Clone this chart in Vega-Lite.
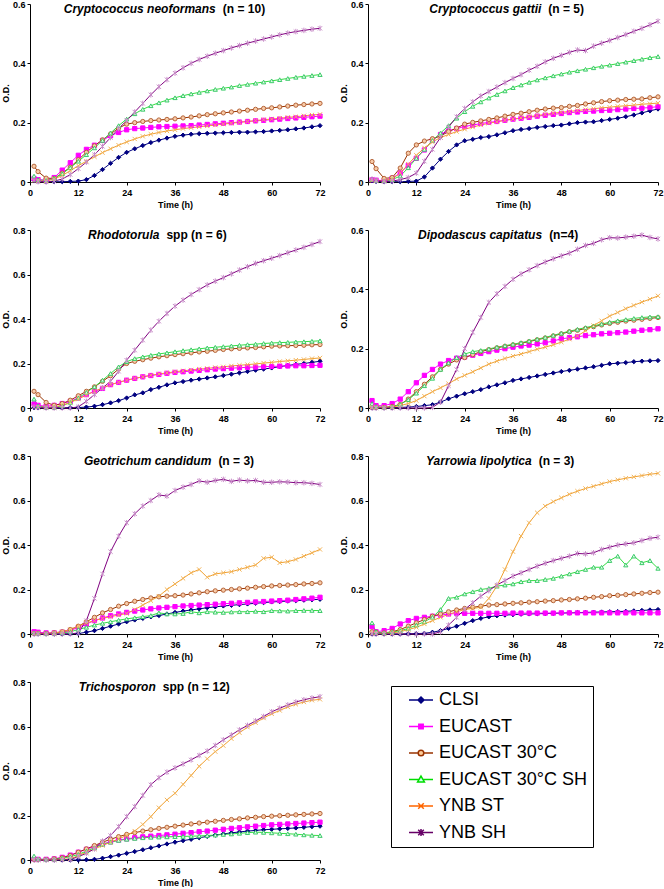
{
"$schema": "https://vega.github.io/schema/vega-lite/v6.json",
"padding": {"left": 1, "top": 0, "right": 0, "bottom": 0},
"background": "white",
"datasets": {
"names": [{"k":"a","s":"CLSI"},{"k":"b","s":"EUCAST"},{"k":"c","s":"EUCAST 30°C"},{"k":"d","s":"EUCAST 30°C SH"},{"k":"e","s":"YNB ST"},{"k":"f","s":"YNB SH"}],
"titles": [
{"p":1,"sp":"Cryptococcus neoformans","n":"(n = 10)"},
{"p":2,"sp":"Cryptococcus gattii","n":"(n = 5)"},
{"p":3,"sp":"Rhodotorula","n":"spp (n = 6)"},
{"p":4,"sp":"Dipodascus capitatus","n":"(n=4)"},
{"p":5,"sp":"Geotrichum candidum","n":"(n = 3)"},
{"p":6,"sp":"Yarrowia lipolytica","n":"(n = 3)"},
{"p":7,"sp":"Trichosporon","n":"spp (n = 12)"}
],
"od": [
{"p":1,"t":1,"a":0.006,"b":0.012,"c":0.053,"d":0.02,"e":0.005,"f":0.005},
{"p":1,"t":2,"a":0.003,"b":0.008,"c":0.035,"d":0.008,"e":0.004,"f":0.001},
{"p":1,"t":4,"a":0.002,"b":0.006,"c":0.013,"d":0.005,"e":0.003,"f":0},
{"p":1,"t":6,"a":0.001,"b":0.015,"c":0.012,"d":0.012,"e":0.01,"f":0.003},
{"p":1,"t":8,"a":0.001,"b":0.04,"c":0.03,"d":0.028,"e":0.022,"f":0.01},
{"p":1,"t":10,"a":0.002,"b":0.065,"c":0.05,"d":0.048,"e":0.038,"f":0.025},
{"p":1,"t":12,"a":0.003,"b":0.09,"c":0.075,"d":0.07,"e":0.055,"f":0.045},
{"p":1,"t":14,"a":0.008,"b":0.11,"c":0.1,"d":0.092,"e":0.07,"f":0.067},
{"p":1,"t":16,"a":0.022,"b":0.124,"c":0.122,"d":0.115,"e":0.085,"f":0.092},
{"p":1,"t":18,"a":0.042,"b":0.14,"c":0.142,"d":0.14,"e":0.099,"f":0.12},
{"p":1,"t":20,"a":0.063,"b":0.156,"c":0.162,"d":0.165,"e":0.112,"f":0.15},
{"p":1,"t":22,"a":0.083,"b":0.167,"c":0.182,"d":0.19,"e":0.124,"f":0.18},
{"p":1,"t":24,"a":0.1,"b":0.176,"c":0.195,"d":0.212,"e":0.135,"f":0.207},
{"p":1,"t":26,"a":0.112,"b":0.18,"c":0.2,"d":0.23,"e":0.145,"f":0.236},
{"p":1,"t":28,"a":0.123,"b":0.182,"c":0.204,"d":0.245,"e":0.154,"f":0.265},
{"p":1,"t":30,"a":0.133,"b":0.184,"c":0.207,"d":0.257,"e":0.161,"f":0.294},
{"p":1,"t":32,"a":0.141,"b":0.186,"c":0.209,"d":0.267,"e":0.167,"f":0.321},
{"p":1,"t":34,"a":0.148,"b":0.187,"c":0.211,"d":0.276,"e":0.172,"f":0.345},
{"p":1,"t":36,"a":0.154,"b":0.188,"c":0.213,"d":0.284,"e":0.176,"f":0.367},
{"p":1,"t":38,"a":0.158,"b":0.189,"c":0.216,"d":0.291,"e":0.18,"f":0.385},
{"p":1,"t":40,"a":0.161,"b":0.19,"c":0.219,"d":0.297,"e":0.183,"f":0.4},
{"p":1,"t":42,"a":0.163,"b":0.192,"c":0.223,"d":0.302,"e":0.186,"f":0.413},
{"p":1,"t":44,"a":0.164,"b":0.194,"c":0.227,"d":0.307,"e":0.189,"f":0.424},
{"p":1,"t":46,"a":0.165,"b":0.196,"c":0.23,"d":0.312,"e":0.192,"f":0.434},
{"p":1,"t":48,"a":0.166,"b":0.198,"c":0.233,"d":0.316,"e":0.195,"f":0.443},
{"p":1,"t":50,"a":0.167,"b":0.2,"c":0.236,"d":0.32,"e":0.198,"f":0.452},
{"p":1,"t":52,"a":0.168,"b":0.202,"c":0.239,"d":0.325,"e":0.201,"f":0.46},
{"p":1,"t":54,"a":0.168,"b":0.204,"c":0.242,"d":0.329,"e":0.204,"f":0.468},
{"p":1,"t":56,"a":0.169,"b":0.206,"c":0.245,"d":0.333,"e":0.207,"f":0.475},
{"p":1,"t":58,"a":0.17,"b":0.208,"c":0.248,"d":0.337,"e":0.21,"f":0.482},
{"p":1,"t":60,"a":0.172,"b":0.21,"c":0.25,"d":0.341,"e":0.212,"f":0.489},
{"p":1,"t":62,"a":0.174,"b":0.212,"c":0.253,"d":0.345,"e":0.215,"f":0.496},
{"p":1,"t":64,"a":0.176,"b":0.214,"c":0.256,"d":0.349,"e":0.218,"f":0.502},
{"p":1,"t":66,"a":0.179,"b":0.216,"c":0.259,"d":0.353,"e":0.22,"f":0.507},
{"p":1,"t":68,"a":0.182,"b":0.218,"c":0.261,"d":0.356,"e":0.223,"f":0.511},
{"p":1,"t":70,"a":0.186,"b":0.22,"c":0.263,"d":0.359,"e":0.226,"f":0.515},
{"p":1,"t":72,"a":0.19,"b":0.222,"c":0.265,"d":0.362,"e":0.228,"f":0.518},
{"p":2,"t":1,"a":0.004,"b":0.008,"c":0.069,"d":0.008,"e":0.005,"f":0.01},
{"p":2,"t":2,"a":0.002,"b":0.006,"c":0.045,"d":0.005,"e":0.005,"f":0.005},
{"p":2,"t":4,"a":0.001,"b":0.005,"c":0.012,"d":0.004,"e":0.005,"f":0.002},
{"p":2,"t":6,"a":0.001,"b":0.013,"c":0.015,"d":0.008,"e":0.01,"f":0.003},
{"p":2,"t":8,"a":0.001,"b":0.03,"c":0.047,"d":0.02,"e":0.03,"f":0.008},
{"p":2,"t":10,"a":0.002,"b":0.056,"c":0.097,"d":0.048,"e":0.06,"f":0.015},
{"p":2,"t":12,"a":0.003,"b":0.08,"c":0.125,"d":0.08,"e":0.09,"f":0.03},
{"p":2,"t":14,"a":0.017,"b":0.108,"c":0.138,"d":0.11,"e":0.115,"f":0.07},
{"p":2,"t":16,"a":0.047,"b":0.14,"c":0.146,"d":0.14,"e":0.135,"f":0.11},
{"p":2,"t":18,"a":0.077,"b":0.16,"c":0.155,"d":0.165,"e":0.15,"f":0.15},
{"p":2,"t":20,"a":0.103,"b":0.172,"c":0.17,"d":0.19,"e":0.16,"f":0.185},
{"p":2,"t":22,"a":0.125,"b":0.18,"c":0.182,"d":0.215,"e":0.17,"f":0.22},
{"p":2,"t":24,"a":0.139,"b":0.187,"c":0.195,"d":0.237,"e":0.178,"f":0.248},
{"p":2,"t":26,"a":0.144,"b":0.192,"c":0.201,"d":0.255,"e":0.185,"f":0.27},
{"p":2,"t":28,"a":0.15,"b":0.197,"c":0.206,"d":0.27,"e":0.192,"f":0.29},
{"p":2,"t":30,"a":0.153,"b":0.201,"c":0.211,"d":0.283,"e":0.198,"f":0.305},
{"p":2,"t":32,"a":0.159,"b":0.204,"c":0.216,"d":0.295,"e":0.203,"f":0.32},
{"p":2,"t":34,"a":0.166,"b":0.208,"c":0.222,"d":0.307,"e":0.208,"f":0.335},
{"p":2,"t":36,"a":0.173,"b":0.212,"c":0.228,"d":0.318,"e":0.212,"f":0.349},
{"p":2,"t":38,"a":0.177,"b":0.215,"c":0.232,"d":0.327,"e":0.216,"f":0.362},
{"p":2,"t":40,"a":0.18,"b":0.218,"c":0.237,"d":0.336,"e":0.22,"f":0.377},
{"p":2,"t":42,"a":0.184,"b":0.222,"c":0.242,"d":0.344,"e":0.224,"f":0.39},
{"p":2,"t":44,"a":0.187,"b":0.225,"c":0.246,"d":0.351,"e":0.228,"f":0.405},
{"p":2,"t":46,"a":0.19,"b":0.228,"c":0.249,"d":0.358,"e":0.232,"f":0.417},
{"p":2,"t":48,"a":0.192,"b":0.231,"c":0.251,"d":0.364,"e":0.235,"f":0.427},
{"p":2,"t":50,"a":0.196,"b":0.234,"c":0.255,"d":0.37,"e":0.238,"f":0.437},
{"p":2,"t":52,"a":0.2,"b":0.236,"c":0.258,"d":0.375,"e":0.241,"f":0.445},
{"p":2,"t":54,"a":0.202,"b":0.238,"c":0.263,"d":0.38,"e":0.244,"f":0.443},
{"p":2,"t":56,"a":0.203,"b":0.239,"c":0.267,"d":0.385,"e":0.247,"f":0.458},
{"p":2,"t":58,"a":0.207,"b":0.241,"c":0.271,"d":0.39,"e":0.25,"f":0.468},
{"p":2,"t":60,"a":0.211,"b":0.242,"c":0.274,"d":0.394,"e":0.252,"f":0.477},
{"p":2,"t":62,"a":0.215,"b":0.244,"c":0.276,"d":0.399,"e":0.255,"f":0.487},
{"p":2,"t":64,"a":0.22,"b":0.246,"c":0.278,"d":0.404,"e":0.257,"f":0.497},
{"p":2,"t":66,"a":0.226,"b":0.248,"c":0.279,"d":0.409,"e":0.259,"f":0.508},
{"p":2,"t":68,"a":0.233,"b":0.249,"c":0.28,"d":0.414,"e":0.262,"f":0.518},
{"p":2,"t":70,"a":0.24,"b":0.251,"c":0.284,"d":0.419,"e":0.264,"f":0.53},
{"p":2,"t":72,"a":0.246,"b":0.254,"c":0.287,"d":0.423,"e":0.266,"f":0.542},
{"p":3,"t":1,"a":0.001,"b":0.018,"c":0.075,"d":0.04,"e":0.005,"f":0.005},
{"p":3,"t":2,"a":0.001,"b":0.012,"c":0.06,"d":0.01,"e":0.004,"f":0.002},
{"p":3,"t":4,"a":0.001,"b":0.008,"c":0.025,"d":0.003,"e":0.003,"f":0},
{"p":3,"t":6,"a":0.001,"b":0.012,"c":0.012,"d":0.003,"e":0.005,"f":0},
{"p":3,"t":8,"a":0.001,"b":0.02,"c":0.02,"d":0.01,"e":0.012,"f":0},
{"p":3,"t":10,"a":0.002,"b":0.03,"c":0.035,"d":0.025,"e":0.025,"f":0},
{"p":3,"t":12,"a":0.002,"b":0.045,"c":0.055,"d":0.045,"e":0.04,"f":0.005},
{"p":3,"t":14,"a":0.004,"b":0.06,"c":0.075,"d":0.07,"e":0.058,"f":0.03},
{"p":3,"t":16,"a":0.008,"b":0.075,"c":0.095,"d":0.095,"e":0.075,"f":0.06},
{"p":3,"t":18,"a":0.015,"b":0.088,"c":0.12,"d":0.125,"e":0.09,"f":0.09},
{"p":3,"t":20,"a":0.023,"b":0.105,"c":0.145,"d":0.155,"e":0.105,"f":0.12},
{"p":3,"t":22,"a":0.033,"b":0.115,"c":0.175,"d":0.185,"e":0.115,"f":0.165},
{"p":3,"t":24,"a":0.045,"b":0.125,"c":0.2,"d":0.208,"e":0.125,"f":0.215},
{"p":3,"t":26,"a":0.059,"b":0.133,"c":0.21,"d":0.222,"e":0.133,"f":0.26},
{"p":3,"t":28,"a":0.068,"b":0.14,"c":0.217,"d":0.23,"e":0.14,"f":0.305},
{"p":3,"t":30,"a":0.083,"b":0.146,"c":0.224,"d":0.237,"e":0.147,"f":0.35},
{"p":3,"t":32,"a":0.093,"b":0.151,"c":0.23,"d":0.243,"e":0.153,"f":0.39},
{"p":3,"t":34,"a":0.104,"b":0.156,"c":0.235,"d":0.248,"e":0.158,"f":0.425},
{"p":3,"t":36,"a":0.113,"b":0.16,"c":0.24,"d":0.253,"e":0.163,"f":0.458},
{"p":3,"t":38,"a":0.119,"b":0.163,"c":0.244,"d":0.258,"e":0.167,"f":0.485},
{"p":3,"t":40,"a":0.125,"b":0.166,"c":0.248,"d":0.262,"e":0.171,"f":0.51},
{"p":3,"t":42,"a":0.13,"b":0.169,"c":0.252,"d":0.266,"e":0.175,"f":0.532},
{"p":3,"t":44,"a":0.135,"b":0.172,"c":0.255,"d":0.27,"e":0.178,"f":0.553},
{"p":3,"t":46,"a":0.14,"b":0.175,"c":0.259,"d":0.273,"e":0.182,"f":0.57},
{"p":3,"t":48,"a":0.146,"b":0.177,"c":0.263,"d":0.276,"e":0.185,"f":0.586},
{"p":3,"t":50,"a":0.152,"b":0.179,"c":0.266,"d":0.279,"e":0.189,"f":0.603},
{"p":3,"t":52,"a":0.158,"b":0.181,"c":0.268,"d":0.282,"e":0.192,"f":0.62},
{"p":3,"t":54,"a":0.164,"b":0.183,"c":0.27,"d":0.285,"e":0.195,"f":0.635},
{"p":3,"t":56,"a":0.17,"b":0.184,"c":0.272,"d":0.287,"e":0.198,"f":0.65},
{"p":3,"t":58,"a":0.175,"b":0.186,"c":0.275,"d":0.29,"e":0.202,"f":0.662},
{"p":3,"t":60,"a":0.18,"b":0.187,"c":0.278,"d":0.292,"e":0.205,"f":0.673},
{"p":3,"t":62,"a":0.186,"b":0.188,"c":0.279,"d":0.294,"e":0.209,"f":0.685},
{"p":3,"t":64,"a":0.191,"b":0.189,"c":0.28,"d":0.295,"e":0.212,"f":0.698},
{"p":3,"t":66,"a":0.196,"b":0.19,"c":0.281,"d":0.297,"e":0.215,"f":0.71},
{"p":3,"t":68,"a":0.2,"b":0.19,"c":0.282,"d":0.298,"e":0.218,"f":0.722},
{"p":3,"t":70,"a":0.205,"b":0.191,"c":0.284,"d":0.3,"e":0.222,"f":0.735},
{"p":3,"t":72,"a":0.21,"b":0.192,"c":0.285,"d":0.302,"e":0.225,"f":0.748},
{"p":4,"t":1,"a":0,"b":0.025,"c":0.003,"d":0.015,"e":0.003,"f":0},
{"p":4,"t":2,"a":0,"b":0.008,"c":0.002,"d":0.005,"e":0.002,"f":0},
{"p":4,"t":4,"a":0,"b":0.008,"c":0.002,"d":0.002,"e":0.002,"f":0},
{"p":4,"t":6,"a":0.001,"b":0.015,"c":0.005,"d":0.004,"e":0.003,"f":0},
{"p":4,"t":8,"a":0.002,"b":0.03,"c":0.012,"d":0.012,"e":0.008,"f":0},
{"p":4,"t":10,"a":0.003,"b":0.055,"c":0.03,"d":0.028,"e":0.015,"f":0},
{"p":4,"t":12,"a":0.005,"b":0.085,"c":0.055,"d":0.05,"e":0.025,"f":0},
{"p":4,"t":14,"a":0.008,"b":0.11,"c":0.08,"d":0.075,"e":0.04,"f":0},
{"p":4,"t":16,"a":0.011,"b":0.13,"c":0.105,"d":0.1,"e":0.055,"f":0.002},
{"p":4,"t":18,"a":0.02,"b":0.148,"c":0.13,"d":0.13,"e":0.068,"f":0.02},
{"p":4,"t":20,"a":0.031,"b":0.16,"c":0.148,"d":0.152,"e":0.082,"f":0.075},
{"p":4,"t":22,"a":0.04,"b":0.168,"c":0.162,"d":0.17,"e":0.098,"f":0.13},
{"p":4,"t":24,"a":0.048,"b":0.172,"c":0.17,"d":0.182,"e":0.11,"f":0.2},
{"p":4,"t":26,"a":0.055,"b":0.178,"c":0.18,"d":0.19,"e":0.122,"f":0.255},
{"p":4,"t":28,"a":0.062,"b":0.184,"c":0.19,"d":0.194,"e":0.135,"f":0.305},
{"p":4,"t":30,"a":0.071,"b":0.19,"c":0.197,"d":0.199,"e":0.148,"f":0.356},
{"p":4,"t":32,"a":0.078,"b":0.195,"c":0.203,"d":0.205,"e":0.158,"f":0.385},
{"p":4,"t":34,"a":0.085,"b":0.2,"c":0.208,"d":0.21,"e":0.167,"f":0.41},
{"p":4,"t":36,"a":0.093,"b":0.205,"c":0.213,"d":0.215,"e":0.175,"f":0.434},
{"p":4,"t":38,"a":0.098,"b":0.209,"c":0.218,"d":0.22,"e":0.182,"f":0.452},
{"p":4,"t":40,"a":0.103,"b":0.212,"c":0.224,"d":0.226,"e":0.19,"f":0.466},
{"p":4,"t":42,"a":0.108,"b":0.216,"c":0.23,"d":0.232,"e":0.198,"f":0.48},
{"p":4,"t":44,"a":0.113,"b":0.22,"c":0.236,"d":0.238,"e":0.205,"f":0.492},
{"p":4,"t":46,"a":0.118,"b":0.226,"c":0.243,"d":0.245,"e":0.213,"f":0.503},
{"p":4,"t":48,"a":0.123,"b":0.233,"c":0.25,"d":0.252,"e":0.222,"f":0.513},
{"p":4,"t":50,"a":0.127,"b":0.237,"c":0.257,"d":0.259,"e":0.232,"f":0.522},
{"p":4,"t":52,"a":0.131,"b":0.24,"c":0.262,"d":0.265,"e":0.243,"f":0.535},
{"p":4,"t":54,"a":0.135,"b":0.244,"c":0.268,"d":0.271,"e":0.26,"f":0.548},
{"p":4,"t":56,"a":0.139,"b":0.247,"c":0.274,"d":0.277,"e":0.278,"f":0.555},
{"p":4,"t":58,"a":0.144,"b":0.25,"c":0.28,"d":0.283,"e":0.294,"f":0.567},
{"p":4,"t":60,"a":0.149,"b":0.252,"c":0.285,"d":0.289,"e":0.31,"f":0.574},
{"p":4,"t":62,"a":0.151,"b":0.254,"c":0.289,"d":0.294,"e":0.322,"f":0.573},
{"p":4,"t":64,"a":0.153,"b":0.256,"c":0.293,"d":0.298,"e":0.335,"f":0.576},
{"p":4,"t":66,"a":0.156,"b":0.259,"c":0.296,"d":0.302,"e":0.346,"f":0.579},
{"p":4,"t":68,"a":0.158,"b":0.262,"c":0.299,"d":0.305,"e":0.357,"f":0.583},
{"p":4,"t":70,"a":0.159,"b":0.264,"c":0.302,"d":0.307,"e":0.367,"f":0.575},
{"p":4,"t":72,"a":0.16,"b":0.267,"c":0.305,"d":0.308,"e":0.378,"f":0.57},
{"p":5,"t":1,"a":0,"b":0.01,"c":0.003,"d":0.005,"e":0.003,"f":0},
{"p":5,"t":2,"a":0,"b":0.008,"c":0.003,"d":0.003,"e":0.003,"f":0},
{"p":5,"t":4,"a":0,"b":0.005,"c":0.002,"d":0.002,"e":0.002,"f":0},
{"p":5,"t":6,"a":0,"b":0.005,"c":0.005,"d":0.003,"e":0.005,"f":0},
{"p":5,"t":8,"a":0,"b":0.008,"c":0.01,"d":0.005,"e":0.01,"f":0},
{"p":5,"t":10,"a":0.001,"b":0.015,"c":0.02,"d":0.01,"e":0.02,"f":0},
{"p":5,"t":12,"a":0.002,"b":0.03,"c":0.035,"d":0.02,"e":0.035,"f":0.005},
{"p":5,"t":14,"a":0.008,"b":0.045,"c":0.055,"d":0.03,"e":0.05,"f":0.06},
{"p":5,"t":16,"a":0.015,"b":0.06,"c":0.075,"d":0.04,"e":0.06,"f":0.16},
{"p":5,"t":18,"a":0.025,"b":0.072,"c":0.095,"d":0.048,"e":0.07,"f":0.27},
{"p":5,"t":20,"a":0.035,"b":0.082,"c":0.11,"d":0.055,"e":0.078,"f":0.37},
{"p":5,"t":22,"a":0.045,"b":0.09,"c":0.125,"d":0.062,"e":0.085,"f":0.44},
{"p":5,"t":24,"a":0.055,"b":0.097,"c":0.137,"d":0.068,"e":0.092,"f":0.5},
{"p":5,"t":26,"a":0.063,"b":0.103,"c":0.147,"d":0.073,"e":0.11,"f":0.54},
{"p":5,"t":28,"a":0.07,"b":0.108,"c":0.155,"d":0.078,"e":0.13,"f":0.575},
{"p":5,"t":30,"a":0.077,"b":0.113,"c":0.162,"d":0.083,"e":0.15,"f":0.6},
{"p":5,"t":32,"a":0.083,"b":0.117,"c":0.167,"d":0.095,"e":0.17,"f":0.625},
{"p":5,"t":34,"a":0.09,"b":0.12,"c":0.17,"d":0.09,"e":0.2,"f":0.62},
{"p":5,"t":36,"a":0.097,"b":0.123,"c":0.172,"d":0.09,"e":0.225,"f":0.645},
{"p":5,"t":38,"a":0.103,"b":0.126,"c":0.175,"d":0.092,"e":0.25,"f":0.66},
{"p":5,"t":40,"a":0.108,"b":0.128,"c":0.18,"d":0.1,"e":0.275,"f":0.672},
{"p":5,"t":42,"a":0.113,"b":0.13,"c":0.185,"d":0.095,"e":0.29,"f":0.688},
{"p":5,"t":44,"a":0.118,"b":0.132,"c":0.19,"d":0.1,"e":0.255,"f":0.682},
{"p":5,"t":46,"a":0.122,"b":0.134,"c":0.194,"d":0.098,"e":0.27,"f":0.69},
{"p":5,"t":48,"a":0.126,"b":0.136,"c":0.197,"d":0.097,"e":0.275,"f":0.695},
{"p":5,"t":50,"a":0.129,"b":0.138,"c":0.2,"d":0.099,"e":0.28,"f":0.686},
{"p":5,"t":52,"a":0.132,"b":0.14,"c":0.203,"d":0.1,"e":0.29,"f":0.692},
{"p":5,"t":54,"a":0.135,"b":0.142,"c":0.206,"d":0.1,"e":0.3,"f":0.688},
{"p":5,"t":56,"a":0.138,"b":0.144,"c":0.21,"d":0.102,"e":0.31,"f":0.69},
{"p":5,"t":58,"a":0.141,"b":0.146,"c":0.213,"d":0.1,"e":0.34,"f":0.682},
{"p":5,"t":60,"a":0.144,"b":0.148,"c":0.216,"d":0.105,"e":0.345,"f":0.682},
{"p":5,"t":62,"a":0.146,"b":0.15,"c":0.218,"d":0.104,"e":0.32,"f":0.684},
{"p":5,"t":64,"a":0.148,"b":0.152,"c":0.22,"d":0.103,"e":0.325,"f":0.683},
{"p":5,"t":66,"a":0.15,"b":0.155,"c":0.222,"d":0.105,"e":0.335,"f":0.68},
{"p":5,"t":68,"a":0.152,"b":0.158,"c":0.225,"d":0.106,"e":0.35,"f":0.68},
{"p":5,"t":70,"a":0.154,"b":0.161,"c":0.227,"d":0.106,"e":0.365,"f":0.677},
{"p":5,"t":72,"a":0.156,"b":0.165,"c":0.23,"d":0.105,"e":0.38,"f":0.672},
{"p":6,"t":1,"a":0,"b":0.033,"c":0.01,"d":0.05,"e":0.003,"f":0},
{"p":6,"t":2,"a":0,"b":0.01,"c":0.008,"d":0.01,"e":0.003,"f":0},
{"p":6,"t":4,"a":0,"b":0.015,"c":0.005,"d":0.005,"e":0.002,"f":0},
{"p":6,"t":6,"a":0,"b":0.025,"c":0.01,"d":0.008,"e":0.005,"f":0},
{"p":6,"t":8,"a":0,"b":0.045,"c":0.02,"d":0.015,"e":0.01,"f":0},
{"p":6,"t":10,"a":0.001,"b":0.06,"c":0.035,"d":0.025,"e":0.02,"f":0},
{"p":6,"t":12,"a":0.002,"b":0.07,"c":0.05,"d":0.04,"e":0.03,"f":0},
{"p":6,"t":14,"a":0.003,"b":0.075,"c":0.065,"d":0.055,"e":0.045,"f":0},
{"p":6,"t":16,"a":0.008,"b":0.08,"c":0.08,"d":0.075,"e":0.06,"f":0},
{"p":6,"t":18,"a":0.015,"b":0.085,"c":0.09,"d":0.11,"e":0.075,"f":0.01},
{"p":6,"t":20,"a":0.025,"b":0.09,"c":0.1,"d":0.16,"e":0.088,"f":0.04},
{"p":6,"t":22,"a":0.035,"b":0.092,"c":0.108,"d":0.165,"e":0.1,"f":0.075},
{"p":6,"t":24,"a":0.048,"b":0.093,"c":0.115,"d":0.18,"e":0.11,"f":0.11},
{"p":6,"t":26,"a":0.06,"b":0.093,"c":0.12,"d":0.19,"e":0.115,"f":0.14},
{"p":6,"t":28,"a":0.07,"b":0.093,"c":0.125,"d":0.2,"e":0.12,"f":0.17},
{"p":6,"t":30,"a":0.077,"b":0.093,"c":0.13,"d":0.205,"e":0.16,"f":0.195},
{"p":6,"t":32,"a":0.082,"b":0.093,"c":0.132,"d":0.215,"e":0.215,"f":0.22},
{"p":6,"t":34,"a":0.085,"b":0.093,"c":0.135,"d":0.22,"e":0.29,"f":0.24},
{"p":6,"t":36,"a":0.087,"b":0.094,"c":0.138,"d":0.225,"e":0.37,"f":0.26},
{"p":6,"t":38,"a":0.089,"b":0.094,"c":0.14,"d":0.235,"e":0.44,"f":0.275},
{"p":6,"t":40,"a":0.09,"b":0.094,"c":0.143,"d":0.24,"e":0.5,"f":0.29},
{"p":6,"t":42,"a":0.091,"b":0.094,"c":0.145,"d":0.24,"e":0.545,"f":0.305},
{"p":6,"t":44,"a":0.092,"b":0.094,"c":0.148,"d":0.245,"e":0.575,"f":0.318},
{"p":6,"t":46,"a":0.093,"b":0.094,"c":0.15,"d":0.25,"e":0.595,"f":0.33},
{"p":6,"t":48,"a":0.094,"b":0.095,"c":0.153,"d":0.26,"e":0.612,"f":0.34},
{"p":6,"t":50,"a":0.095,"b":0.095,"c":0.155,"d":0.27,"e":0.628,"f":0.35},
{"p":6,"t":52,"a":0.096,"b":0.095,"c":0.158,"d":0.28,"e":0.642,"f":0.362},
{"p":6,"t":54,"a":0.097,"b":0.095,"c":0.161,"d":0.29,"e":0.654,"f":0.36},
{"p":6,"t":56,"a":0.098,"b":0.095,"c":0.165,"d":0.3,"e":0.664,"f":0.365},
{"p":6,"t":58,"a":0.099,"b":0.095,"c":0.168,"d":0.3,"e":0.675,"f":0.38},
{"p":6,"t":60,"a":0.1,"b":0.095,"c":0.172,"d":0.33,"e":0.685,"f":0.39},
{"p":6,"t":62,"a":0.101,"b":0.095,"c":0.174,"d":0.35,"e":0.693,"f":0.4},
{"p":6,"t":64,"a":0.102,"b":0.095,"c":0.177,"d":0.31,"e":0.7,"f":0.405},
{"p":6,"t":66,"a":0.104,"b":0.095,"c":0.18,"d":0.35,"e":0.706,"f":0.41},
{"p":6,"t":68,"a":0.106,"b":0.095,"c":0.183,"d":0.32,"e":0.712,"f":0.42},
{"p":6,"t":70,"a":0.108,"b":0.095,"c":0.186,"d":0.33,"e":0.718,"f":0.43},
{"p":6,"t":72,"a":0.11,"b":0.095,"c":0.188,"d":0.295,"e":0.722,"f":0.435},
{"p":7,"t":1,"a":0,"b":0.003,"c":0.002,"d":0.018,"e":0,"f":0},
{"p":7,"t":2,"a":0,"b":0.003,"c":0.002,"d":0.005,"e":0,"f":0},
{"p":7,"t":4,"a":0,"b":0.003,"c":0.002,"d":0.002,"e":0,"f":0},
{"p":7,"t":6,"a":0,"b":0.005,"c":0.005,"d":0.003,"e":0.001,"f":0},
{"p":7,"t":8,"a":0,"b":0.012,"c":0.01,"d":0.008,"e":0.003,"f":0.001},
{"p":7,"t":10,"a":0,"b":0.022,"c":0.02,"d":0.015,"e":0.005,"f":0.002},
{"p":7,"t":12,"a":0,"b":0.035,"c":0.035,"d":0.025,"e":0.02,"f":0.015},
{"p":7,"t":14,"a":0.001,"b":0.048,"c":0.05,"d":0.04,"e":0.035,"f":0.03},
{"p":7,"t":16,"a":0.003,"b":0.06,"c":0.065,"d":0.055,"e":0.05,"f":0.05},
{"p":7,"t":18,"a":0.008,"b":0.072,"c":0.08,"d":0.07,"e":0.065,"f":0.085},
{"p":7,"t":20,"a":0.015,"b":0.082,"c":0.093,"d":0.08,"e":0.08,"f":0.11},
{"p":7,"t":22,"a":0.022,"b":0.09,"c":0.105,"d":0.088,"e":0.095,"f":0.15},
{"p":7,"t":24,"a":0.03,"b":0.095,"c":0.115,"d":0.093,"e":0.11,"f":0.195},
{"p":7,"t":26,"a":0.038,"b":0.1,"c":0.123,"d":0.097,"e":0.13,"f":0.24},
{"p":7,"t":28,"a":0.046,"b":0.104,"c":0.13,"d":0.1,"e":0.16,"f":0.29},
{"p":7,"t":30,"a":0.055,"b":0.107,"c":0.136,"d":0.102,"e":0.195,"f":0.338},
{"p":7,"t":32,"a":0.063,"b":0.11,"c":0.142,"d":0.103,"e":0.235,"f":0.37},
{"p":7,"t":34,"a":0.072,"b":0.113,"c":0.147,"d":0.104,"e":0.27,"f":0.395},
{"p":7,"t":36,"a":0.08,"b":0.116,"c":0.152,"d":0.105,"e":0.3,"f":0.414},
{"p":7,"t":38,"a":0.087,"b":0.12,"c":0.157,"d":0.106,"e":0.34,"f":0.432},
{"p":7,"t":40,"a":0.093,"b":0.123,"c":0.162,"d":0.107,"e":0.38,"f":0.45},
{"p":7,"t":42,"a":0.1,"b":0.127,"c":0.166,"d":0.108,"e":0.421,"f":0.47},
{"p":7,"t":44,"a":0.106,"b":0.13,"c":0.17,"d":0.11,"e":0.455,"f":0.49},
{"p":7,"t":46,"a":0.112,"b":0.134,"c":0.174,"d":0.112,"e":0.487,"f":0.515},
{"p":7,"t":48,"a":0.117,"b":0.138,"c":0.178,"d":0.115,"e":0.514,"f":0.54},
{"p":7,"t":50,"a":0.122,"b":0.142,"c":0.182,"d":0.117,"e":0.545,"f":0.562},
{"p":7,"t":52,"a":0.126,"b":0.145,"c":0.185,"d":0.12,"e":0.572,"f":0.585},
{"p":7,"t":54,"a":0.13,"b":0.149,"c":0.189,"d":0.123,"e":0.597,"f":0.605},
{"p":7,"t":56,"a":0.133,"b":0.152,"c":0.192,"d":0.125,"e":0.617,"f":0.625},
{"p":7,"t":58,"a":0.136,"b":0.155,"c":0.195,"d":0.124,"e":0.638,"f":0.645},
{"p":7,"t":60,"a":0.138,"b":0.158,"c":0.197,"d":0.122,"e":0.657,"f":0.666},
{"p":7,"t":62,"a":0.14,"b":0.16,"c":0.199,"d":0.12,"e":0.672,"f":0.682},
{"p":7,"t":64,"a":0.142,"b":0.162,"c":0.201,"d":0.118,"e":0.688,"f":0.697},
{"p":7,"t":66,"a":0.144,"b":0.164,"c":0.203,"d":0.116,"e":0.7,"f":0.71},
{"p":7,"t":68,"a":0.147,"b":0.166,"c":0.205,"d":0.113,"e":0.71,"f":0.72},
{"p":7,"t":70,"a":0.15,"b":0.168,"c":0.207,"d":0.111,"e":0.718,"f":0.728},
{"p":7,"t":72,"a":0.152,"b":0.17,"c":0.209,"d":0.11,"e":0.722,"f":0.734}
]
},
"data": {"name": "od"},
"transform": [
{"fold": ["a","b","c","d","e","f"], "as": ["k","v"]},
{"lookup": "k", "from": {"data": {"name": "names"}, "key": "k", "fields": ["s"]}}
],
"config": {
"font": "Liberation Sans",
"view": {"stroke": null},
"axis": {"grid": false, "domainColor": "#000000", "tickColor": "#000000", "labelColor": "#000000", "titleColor": "#000000", "labelFont": "Liberation Sans", "titleFont": "Liberation Sans", "labelFontSize": 9, "labelFontWeight": "bold", "titleFontSize": 9, "titleFontWeight": "bold", "tickSize": 3, "domainWidth": 1},
"axisX": {"labelPadding": 3, "titlePadding": 3, "labelFlush": false},
"axisY": {"labelPadding": 2, "titlePadding": 2},
"text": {"font": "Liberation Sans", "color": "#000000"}
},
"columns": 2,
"spacing": {"row": 48, "column": 48},
"bounds": "flush",
"resolve": {
"scale": {"x": "independent", "y": "independent", "color": "independent", "fill": "independent", "stroke": "independent", "shape": "independent"},
"axis": {"x": "independent", "y": "independent"},
"legend": {"color": "independent", "fill": "independent", "stroke": "independent", "shape": "independent"}
},
"concat": [
{"width": 290, "height": 178, "layer": [
{"transform": [{"filter": "datum.p == 1"}],
"encoding": {
"x": {"field": "t", "type": "quantitative", "scale": {"domain": [0, 72], "nice": false}, "axis": {"values": [0,12,24,36,48,60,72], "title": "Time (h)"}},
"y": {"field": "v", "type": "quantitative", "scale": {"domain": [0, 0.6], "nice": false}, "axis": {"values": [0,0.2,0.4,0.6], "format": "~g", "title": "O.D."}}},
"layer": [
{"mark": {"type": "line", "strokeWidth": 1}, "encoding": {"color": {"field": "s", "type": "nominal", "legend": null, "scale": {"domain": ["CLSI","EUCAST","EUCAST 30°C","EUCAST 30°C SH","YNB ST","YNB SH"], "range": ["#000080","#FF00FF","#993300","#33DD44","#F0A030","#800080"]}}}},
{"mark": {"type": "point", "size": 18, "strokeWidth": 1, "opacity": 1}, "encoding": {
"shape": {"field": "s", "type": "nominal", "legend": null, "scale": {"domain": ["CLSI","EUCAST","EUCAST 30°C","EUCAST 30°C SH","YNB ST","YNB SH"], "range": ["diamond","square","circle","triangle-up","M-1,-1L1,1M-1,1L1,-1","M-1,-1L1,1M-1,1L1,-1M0,-1.3V1.3"]}},
"fill": {"field": "s", "type": "nominal", "legend": null, "scale": {"domain": ["CLSI","EUCAST","EUCAST 30°C","EUCAST 30°C SH","YNB ST","YNB SH"], "range": ["#000080","#FF00FF","#F8CBA8","#E4FBEA","transparent","transparent"]}},
"stroke": {"field": "s", "type": "nominal", "legend": null, "scale": {"domain": ["CLSI","EUCAST","EUCAST 30°C","EUCAST 30°C SH","YNB ST","YNB SH"], "range": ["#000080","#FF00FF","#B5653A","#3CCB6A","#F3B458","#C88CC8"]}}}}
]},
{"data": {"name": "titles"}, "transform": [{"filter": "datum.p == 1"}], "mark": {"type": "text", "align": "right", "baseline": "middle", "dx": -3.5, "dy": 4.5, "fontSize": 12, "fontWeight": "bold", "fontStyle": "italic"}, "encoding": {"x": {"datum": 47}, "y": {"datum": 0.6}, "text": {"field": "sp"}}},
{"data": {"name": "titles"}, "transform": [{"filter": "datum.p == 1"}], "mark": {"type": "text", "align": "left", "baseline": "middle", "dx": 3.5, "dy": 4.5, "fontSize": 12, "fontWeight": "bold"}, "encoding": {"x": {"datum": 47}, "y": {"datum": 0.6}, "text": {"field": "n"}}}
]},
{"width": 290, "height": 178, "layer": [
{"transform": [{"filter": "datum.p == 2"}],
"encoding": {
"x": {"field": "t", "type": "quantitative", "scale": {"domain": [0, 72], "nice": false}, "axis": {"values": [0,12,24,36,48,60,72], "title": "Time (h)"}},
"y": {"field": "v", "type": "quantitative", "scale": {"domain": [0, 0.6], "nice": false}, "axis": {"values": [0,0.2,0.4,0.6], "format": "~g", "title": "O.D."}}},
"layer": [
{"mark": {"type": "line", "strokeWidth": 1}, "encoding": {"color": {"field": "s", "type": "nominal", "legend": null, "scale": {"domain": ["CLSI","EUCAST","EUCAST 30°C","EUCAST 30°C SH","YNB ST","YNB SH"], "range": ["#000080","#FF00FF","#993300","#33DD44","#F0A030","#800080"]}}}},
{"mark": {"type": "point", "size": 18, "strokeWidth": 1, "opacity": 1}, "encoding": {
"shape": {"field": "s", "type": "nominal", "legend": null, "scale": {"domain": ["CLSI","EUCAST","EUCAST 30°C","EUCAST 30°C SH","YNB ST","YNB SH"], "range": ["diamond","square","circle","triangle-up","M-1,-1L1,1M-1,1L1,-1","M-1,-1L1,1M-1,1L1,-1M0,-1.3V1.3"]}},
"fill": {"field": "s", "type": "nominal", "legend": null, "scale": {"domain": ["CLSI","EUCAST","EUCAST 30°C","EUCAST 30°C SH","YNB ST","YNB SH"], "range": ["#000080","#FF00FF","#F8CBA8","#E4FBEA","transparent","transparent"]}},
"stroke": {"field": "s", "type": "nominal", "legend": null, "scale": {"domain": ["CLSI","EUCAST","EUCAST 30°C","EUCAST 30°C SH","YNB ST","YNB SH"], "range": ["#000080","#FF00FF","#B5653A","#3CCB6A","#F3B458","#C88CC8"]}}}}
]},
{"data": {"name": "titles"}, "transform": [{"filter": "datum.p == 2"}], "mark": {"type": "text", "align": "right", "baseline": "middle", "dx": -3.5, "dy": 4.5, "fontSize": 12, "fontWeight": "bold", "fontStyle": "italic"}, "encoding": {"x": {"datum": 43.9}, "y": {"datum": 0.6}, "text": {"field": "sp"}}},
{"data": {"name": "titles"}, "transform": [{"filter": "datum.p == 2"}], "mark": {"type": "text", "align": "left", "baseline": "middle", "dx": 3.5, "dy": 4.5, "fontSize": 12, "fontWeight": "bold"}, "encoding": {"x": {"datum": 43.9}, "y": {"datum": 0.6}, "text": {"field": "n"}}}
]},
{"width": 290, "height": 178, "layer": [
{"transform": [{"filter": "datum.p == 3"}],
"encoding": {
"x": {"field": "t", "type": "quantitative", "scale": {"domain": [0, 72], "nice": false}, "axis": {"values": [0,12,24,36,48,60,72], "title": "Time (h)"}},
"y": {"field": "v", "type": "quantitative", "scale": {"domain": [0, 0.8], "nice": false}, "axis": {"values": [0,0.2,0.4,0.6,0.8], "format": "~g", "title": "O.D."}}},
"layer": [
{"mark": {"type": "line", "strokeWidth": 1}, "encoding": {"color": {"field": "s", "type": "nominal", "legend": null, "scale": {"domain": ["CLSI","EUCAST","EUCAST 30°C","EUCAST 30°C SH","YNB ST","YNB SH"], "range": ["#000080","#FF00FF","#993300","#33DD44","#F0A030","#800080"]}}}},
{"mark": {"type": "point", "size": 18, "strokeWidth": 1, "opacity": 1}, "encoding": {
"shape": {"field": "s", "type": "nominal", "legend": null, "scale": {"domain": ["CLSI","EUCAST","EUCAST 30°C","EUCAST 30°C SH","YNB ST","YNB SH"], "range": ["diamond","square","circle","triangle-up","M-1,-1L1,1M-1,1L1,-1","M-1,-1L1,1M-1,1L1,-1M0,-1.3V1.3"]}},
"fill": {"field": "s", "type": "nominal", "legend": null, "scale": {"domain": ["CLSI","EUCAST","EUCAST 30°C","EUCAST 30°C SH","YNB ST","YNB SH"], "range": ["#000080","#FF00FF","#F8CBA8","#E4FBEA","transparent","transparent"]}},
"stroke": {"field": "s", "type": "nominal", "legend": null, "scale": {"domain": ["CLSI","EUCAST","EUCAST 30°C","EUCAST 30°C SH","YNB ST","YNB SH"], "range": ["#000080","#FF00FF","#B5653A","#3CCB6A","#F3B458","#C88CC8"]}}}}
]},
{"data": {"name": "titles"}, "transform": [{"filter": "datum.p == 3"}], "mark": {"type": "text", "align": "right", "baseline": "middle", "dx": -3.5, "dy": 4.5, "fontSize": 12, "fontWeight": "bold", "fontStyle": "italic"}, "encoding": {"x": {"datum": 33}, "y": {"datum": 0.8}, "text": {"field": "sp"}}},
{"data": {"name": "titles"}, "transform": [{"filter": "datum.p == 3"}], "mark": {"type": "text", "align": "left", "baseline": "middle", "dx": 3.5, "dy": 4.5, "fontSize": 12, "fontWeight": "bold"}, "encoding": {"x": {"datum": 33}, "y": {"datum": 0.8}, "text": {"field": "n"}}}
]},
{"width": 290, "height": 178, "layer": [
{"transform": [{"filter": "datum.p == 4"}],
"encoding": {
"x": {"field": "t", "type": "quantitative", "scale": {"domain": [0, 72], "nice": false}, "axis": {"values": [0,12,24,36,48,60,72], "title": "Time (h)"}},
"y": {"field": "v", "type": "quantitative", "scale": {"domain": [0, 0.6], "nice": false}, "axis": {"values": [0,0.2,0.4,0.6], "format": "~g", "title": "O.D."}}},
"layer": [
{"mark": {"type": "line", "strokeWidth": 1}, "encoding": {"color": {"field": "s", "type": "nominal", "legend": null, "scale": {"domain": ["CLSI","EUCAST","EUCAST 30°C","EUCAST 30°C SH","YNB ST","YNB SH"], "range": ["#000080","#FF00FF","#993300","#33DD44","#F0A030","#800080"]}}}},
{"mark": {"type": "point", "size": 18, "strokeWidth": 1, "opacity": 1}, "encoding": {
"shape": {"field": "s", "type": "nominal", "legend": null, "scale": {"domain": ["CLSI","EUCAST","EUCAST 30°C","EUCAST 30°C SH","YNB ST","YNB SH"], "range": ["diamond","square","circle","triangle-up","M-1,-1L1,1M-1,1L1,-1","M-1,-1L1,1M-1,1L1,-1M0,-1.3V1.3"]}},
"fill": {"field": "s", "type": "nominal", "legend": null, "scale": {"domain": ["CLSI","EUCAST","EUCAST 30°C","EUCAST 30°C SH","YNB ST","YNB SH"], "range": ["#000080","#FF00FF","#F8CBA8","#E4FBEA","transparent","transparent"]}},
"stroke": {"field": "s", "type": "nominal", "legend": null, "scale": {"domain": ["CLSI","EUCAST","EUCAST 30°C","EUCAST 30°C SH","YNB ST","YNB SH"], "range": ["#000080","#FF00FF","#B5653A","#3CCB6A","#F3B458","#C88CC8"]}}}}
]},
{"data": {"name": "titles"}, "transform": [{"filter": "datum.p == 4"}], "mark": {"type": "text", "align": "right", "baseline": "middle", "dx": -3.5, "dy": 4.5, "fontSize": 12, "fontWeight": "bold", "fontStyle": "italic"}, "encoding": {"x": {"datum": 44.1}, "y": {"datum": 0.6}, "text": {"field": "sp"}}},
{"data": {"name": "titles"}, "transform": [{"filter": "datum.p == 4"}], "mark": {"type": "text", "align": "left", "baseline": "middle", "dx": 3.5, "dy": 4.5, "fontSize": 12, "fontWeight": "bold"}, "encoding": {"x": {"datum": 44.1}, "y": {"datum": 0.6}, "text": {"field": "n"}}}
]},
{"width": 290, "height": 178, "layer": [
{"transform": [{"filter": "datum.p == 5"}],
"encoding": {
"x": {"field": "t", "type": "quantitative", "scale": {"domain": [0, 72], "nice": false}, "axis": {"values": [0,12,24,36,48,60,72], "title": "Time (h)"}},
"y": {"field": "v", "type": "quantitative", "scale": {"domain": [0, 0.8], "nice": false}, "axis": {"values": [0,0.2,0.4,0.6,0.8], "format": "~g", "title": "O.D."}}},
"layer": [
{"mark": {"type": "line", "strokeWidth": 1}, "encoding": {"color": {"field": "s", "type": "nominal", "legend": null, "scale": {"domain": ["CLSI","EUCAST","EUCAST 30°C","EUCAST 30°C SH","YNB ST","YNB SH"], "range": ["#000080","#FF00FF","#993300","#33DD44","#F0A030","#800080"]}}}},
{"mark": {"type": "point", "size": 18, "strokeWidth": 1, "opacity": 1}, "encoding": {
"shape": {"field": "s", "type": "nominal", "legend": null, "scale": {"domain": ["CLSI","EUCAST","EUCAST 30°C","EUCAST 30°C SH","YNB ST","YNB SH"], "range": ["diamond","square","circle","triangle-up","M-1,-1L1,1M-1,1L1,-1","M-1,-1L1,1M-1,1L1,-1M0,-1.3V1.3"]}},
"fill": {"field": "s", "type": "nominal", "legend": null, "scale": {"domain": ["CLSI","EUCAST","EUCAST 30°C","EUCAST 30°C SH","YNB ST","YNB SH"], "range": ["#000080","#FF00FF","#F8CBA8","#E4FBEA","transparent","transparent"]}},
"stroke": {"field": "s", "type": "nominal", "legend": null, "scale": {"domain": ["CLSI","EUCAST","EUCAST 30°C","EUCAST 30°C SH","YNB ST","YNB SH"], "range": ["#000080","#FF00FF","#B5653A","#3CCB6A","#F3B458","#C88CC8"]}}}}
]},
{"data": {"name": "titles"}, "transform": [{"filter": "datum.p == 5"}], "mark": {"type": "text", "align": "right", "baseline": "middle", "dx": -3.5, "dy": 4.5, "fontSize": 12, "fontWeight": "bold", "fontStyle": "italic"}, "encoding": {"x": {"datum": 45.9}, "y": {"datum": 0.8}, "text": {"field": "sp"}}},
{"data": {"name": "titles"}, "transform": [{"filter": "datum.p == 5"}], "mark": {"type": "text", "align": "left", "baseline": "middle", "dx": 3.5, "dy": 4.5, "fontSize": 12, "fontWeight": "bold"}, "encoding": {"x": {"datum": 45.9}, "y": {"datum": 0.8}, "text": {"field": "n"}}}
]},
{"width": 290, "height": 178, "layer": [
{"transform": [{"filter": "datum.p == 6"}],
"encoding": {
"x": {"field": "t", "type": "quantitative", "scale": {"domain": [0, 72], "nice": false}, "axis": {"values": [0,12,24,36,48,60,72], "title": "Time (h)"}},
"y": {"field": "v", "type": "quantitative", "scale": {"domain": [0, 0.8], "nice": false}, "axis": {"values": [0,0.2,0.4,0.6,0.8], "format": "~g", "title": "O.D."}}},
"layer": [
{"mark": {"type": "line", "strokeWidth": 1}, "encoding": {"color": {"field": "s", "type": "nominal", "legend": null, "scale": {"domain": ["CLSI","EUCAST","EUCAST 30°C","EUCAST 30°C SH","YNB ST","YNB SH"], "range": ["#000080","#FF00FF","#993300","#33DD44","#F0A030","#800080"]}}}},
{"mark": {"type": "point", "size": 18, "strokeWidth": 1, "opacity": 1}, "encoding": {
"shape": {"field": "s", "type": "nominal", "legend": null, "scale": {"domain": ["CLSI","EUCAST","EUCAST 30°C","EUCAST 30°C SH","YNB ST","YNB SH"], "range": ["diamond","square","circle","triangle-up","M-1,-1L1,1M-1,1L1,-1","M-1,-1L1,1M-1,1L1,-1M0,-1.3V1.3"]}},
"fill": {"field": "s", "type": "nominal", "legend": null, "scale": {"domain": ["CLSI","EUCAST","EUCAST 30°C","EUCAST 30°C SH","YNB ST","YNB SH"], "range": ["#000080","#FF00FF","#F8CBA8","#E4FBEA","transparent","transparent"]}},
"stroke": {"field": "s", "type": "nominal", "legend": null, "scale": {"domain": ["CLSI","EUCAST","EUCAST 30°C","EUCAST 30°C SH","YNB ST","YNB SH"], "range": ["#000080","#FF00FF","#B5653A","#3CCB6A","#F3B458","#C88CC8"]}}}}
]},
{"data": {"name": "titles"}, "transform": [{"filter": "datum.p == 6"}], "mark": {"type": "text", "align": "right", "baseline": "middle", "dx": -3.5, "dy": 4.5, "fontSize": 12, "fontWeight": "bold", "fontStyle": "italic"}, "encoding": {"x": {"datum": 41.5}, "y": {"datum": 0.8}, "text": {"field": "sp"}}},
{"data": {"name": "titles"}, "transform": [{"filter": "datum.p == 6"}], "mark": {"type": "text", "align": "left", "baseline": "middle", "dx": 3.5, "dy": 4.5, "fontSize": 12, "fontWeight": "bold"}, "encoding": {"x": {"datum": 41.5}, "y": {"datum": 0.8}, "text": {"field": "n"}}}
]},
{"width": 290, "height": 178, "layer": [
{"transform": [{"filter": "datum.p == 7"}],
"encoding": {
"x": {"field": "t", "type": "quantitative", "scale": {"domain": [0, 72], "nice": false}, "axis": {"values": [0,12,24,36,48,60,72], "title": "Time (h)"}},
"y": {"field": "v", "type": "quantitative", "scale": {"domain": [0, 0.8], "nice": false}, "axis": {"values": [0,0.2,0.4,0.6,0.8], "format": "~g", "title": "O.D."}}},
"layer": [
{"mark": {"type": "line", "strokeWidth": 1}, "encoding": {"color": {"field": "s", "type": "nominal", "legend": null, "scale": {"domain": ["CLSI","EUCAST","EUCAST 30°C","EUCAST 30°C SH","YNB ST","YNB SH"], "range": ["#000080","#FF00FF","#993300","#33DD44","#F0A030","#800080"]}}}},
{"mark": {"type": "point", "size": 18, "strokeWidth": 1, "opacity": 1}, "encoding": {
"shape": {"field": "s", "type": "nominal", "legend": null, "scale": {"domain": ["CLSI","EUCAST","EUCAST 30°C","EUCAST 30°C SH","YNB ST","YNB SH"], "range": ["diamond","square","circle","triangle-up","M-1,-1L1,1M-1,1L1,-1","M-1,-1L1,1M-1,1L1,-1M0,-1.3V1.3"]}},
"fill": {"field": "s", "type": "nominal", "legend": null, "scale": {"domain": ["CLSI","EUCAST","EUCAST 30°C","EUCAST 30°C SH","YNB ST","YNB SH"], "range": ["#000080","#FF00FF","#F8CBA8","#E4FBEA","transparent","transparent"]}},
"stroke": {"field": "s", "type": "nominal", "legend": null, "scale": {"domain": ["CLSI","EUCAST","EUCAST 30°C","EUCAST 30°C SH","YNB ST","YNB SH"], "range": ["#000080","#FF00FF","#B5653A","#3CCB6A","#F3B458","#C88CC8"]}}}}
]},
{"data": {"name": "titles"}, "transform": [{"filter": "datum.p == 7"}], "mark": {"type": "text", "align": "right", "baseline": "middle", "dx": -3.5, "dy": 4.5, "fontSize": 12, "fontWeight": "bold", "fontStyle": "italic"}, "encoding": {"x": {"datum": 32.1}, "y": {"datum": 0.8}, "text": {"field": "sp"}}},
{"data": {"name": "titles"}, "transform": [{"filter": "datum.p == 7"}], "mark": {"type": "text", "align": "left", "baseline": "middle", "dx": 3.5, "dy": 4.5, "fontSize": 12, "fontWeight": "bold"}, "encoding": {"x": {"datum": 32.1}, "y": {"datum": 0.8}, "text": {"field": "n"}}}
]},
{"width": 290, "height": 178,
"data": {"name": "names"},
"mark": {"type": "point", "opacity": 0},
"encoding": {
"shape": {"field": "s", "type": "nominal", "scale": {"domain": ["CLSI","EUCAST","EUCAST 30°C","EUCAST 30°C SH","YNB ST","YNB SH"], "range": ["M-3,0H-0.75M0.75,0H3M0,-0.75L0.75,0L0,0.75L-0.75,0Z","M-3,0H-0.55M0.55,0H3M-0.55,-0.55H0.55V0.55H-0.55Z","M-3,0H-0.7M0.7,0H3M-0.7,0A0.7,0.7 0 1,0 0.7,0A0.7,0.7 0 1,0 -0.7,0Z","M-3,0H-0.45M0.45,0H3M0,-0.85L0.85,0.6H-0.85Z","M-3,0H3M-0.7,-0.7L0.7,0.7M-0.7,0.7L0.7,-0.7","M-3,0H3M-0.7,-0.7L0.7,0.7M-0.7,0.7L0.7,-0.7M0,-0.9V0.9"]},
"legend": {"title": null, "orient": "none", "legendX": 23, "legendY": 4, "labelFont": "Liberation Sans", "labelFontSize": 18, "labelColor": "#000000", "labelLimit": 300, "symbolSize": 64, "symbolStrokeWidth": 1.5, "symbolOpacity": 1, "symbolOffset": 16, "labelOffset": 9, "rowPadding": 8.5, "padding": 5, "strokeColor": "#000000", "fillColor": "#FFFFFF"}},
"fill": {"field": "s", "type": "nominal", "scale": {"domain": ["CLSI","EUCAST","EUCAST 30°C","EUCAST 30°C SH","YNB ST","YNB SH"], "range": ["#000080","#FF00FF","#FFCC99","#CCFFEE","transparent","transparent"]},
"legend": {"title": null, "orient": "none", "legendX": 23, "legendY": 4, "labelFont": "Liberation Sans", "labelFontSize": 18, "labelColor": "#000000", "labelLimit": 300, "symbolSize": 64, "symbolStrokeWidth": 1.5, "symbolOpacity": 1, "symbolOffset": 16, "labelOffset": 9, "rowPadding": 8.5, "padding": 5, "strokeColor": "#000000", "fillColor": "#FFFFFF"}},
"stroke": {"field": "s", "type": "nominal", "scale": {"domain": ["CLSI","EUCAST","EUCAST 30°C","EUCAST 30°C SH","YNB ST","YNB SH"], "range": ["#000080","#FF00FF","#993300","#00DD00","#FF6600","#660066"]},
"legend": {"title": null, "orient": "none", "legendX": 23, "legendY": 4, "labelFont": "Liberation Sans", "labelFontSize": 18, "labelColor": "#000000", "labelLimit": 300, "symbolSize": 64, "symbolStrokeWidth": 1.5, "symbolOpacity": 1, "symbolOffset": 16, "labelOffset": 9, "rowPadding": 8.5, "padding": 5, "strokeColor": "#000000", "fillColor": "#FFFFFF"}}
}}
]
}
